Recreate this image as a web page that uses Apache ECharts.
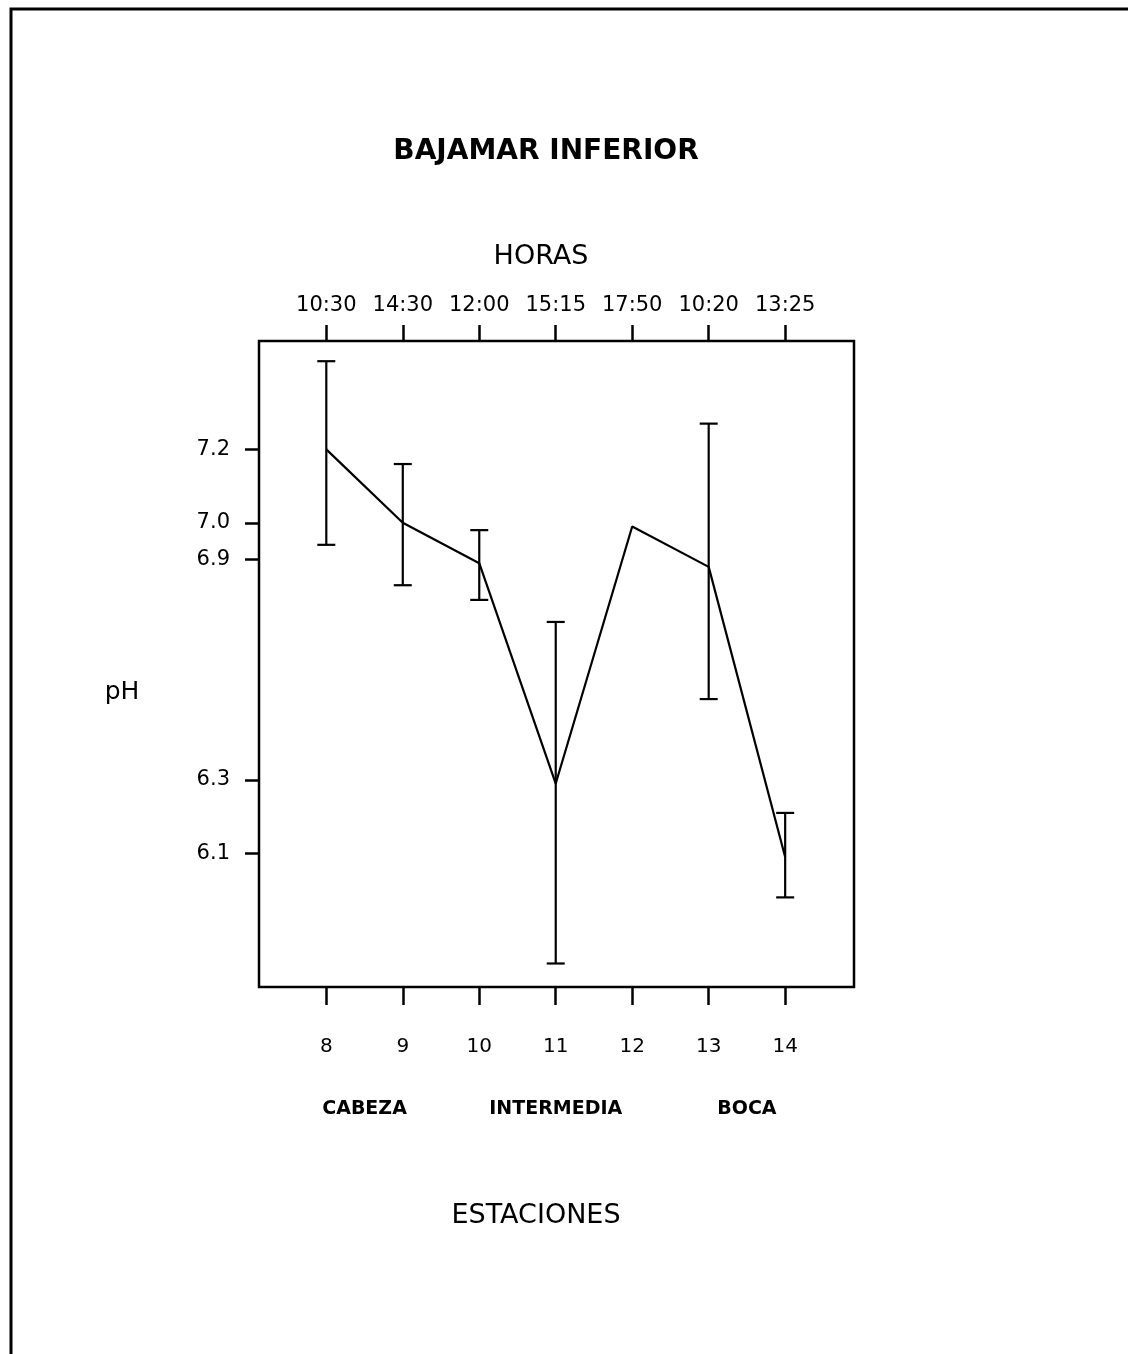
<!DOCTYPE html>
<html>
<head>
<meta charset="utf-8">
<title>Bajamar inferior - pH</title>
<script src="https://cdn.jsdelivr.net/npm/echarts@6.0.0/dist/echarts.min.js"></script>
<style>
  html, body { margin: 0; padding: 0; background: #fff; }
  #chart { width: 1128px; height: 1354px; }
</style>
</head>
<body>
<div id="chart"></div>
<script>
// estaciones y horas de muestreo
const estaciones = [8, 9, 10, 11, 12, 13, 14];
const horas = ['10:30', '14:30', '12:00', '15:15', '17:50', '10:20', '13:25'];
// pH medio y extremos (null = sin barra)
const phMedio = [7.2, 7.0, 6.89, 6.29, 6.99, 6.88, 6.09];
const phMax = [7.44, 7.16, 6.98, 6.73, null, 7.27, 6.21];
const phMin = [6.94, 6.83, 6.79, 5.80, null, 6.52, 5.98];
const yTicks = [6.1, 6.3, 6.9, 7.0, 7.2];
const zonas = ['CABEZA', 'INTERMEDIA', 'BOCA'];
const zonaCentro = [8.5, 11, 13.5];

const INK = '#000';
const FONT = 'DejaVu Sans';

const chart = echarts.init(document.getElementById('chart'));

const linea = estaciones.map((e, i) => [e, phMedio[i]]);
const barras = [];
estaciones.forEach((e, i) => {
  if (phMax[i] != null) barras.push([e, phMin[i], phMax[i]]);
});

function renderBarra(params, api) {
  const x = api.value(0);
  const lo = api.coord([x, api.value(1)]);
  const hi = api.coord([x, api.value(2)]);
  const w = 9;
  const st = { stroke: INK, lineWidth: 2.2 };
  return {
    type: 'group',
    children: [
      { type: 'line', shape: { x1: hi[0], y1: hi[1], x2: lo[0], y2: lo[1] }, style: st },
      { type: 'line', shape: { x1: hi[0] - w, y1: hi[1], x2: hi[0] + w, y2: hi[1] }, style: st },
      { type: 'line', shape: { x1: lo[0] - w, y1: lo[1], x2: lo[0] + w, y2: lo[1] }, style: st }
    ]
  };
}

const xMin = 7.12, xMax = 14.9;

chart.setOption({
  backgroundColor: '#fff',
  animation: false,
  grid: {
    left: 259, right: 274, top: 341, bottom: 367,
    show: true,
    borderColor: INK,
    borderWidth: 2.5,
    backgroundColor: 'transparent'
  },
  graphic: [
    {
      type: 'polyline',
      shape: { points: [[11, 1354], [11, 9], [1128, 9]] },
      style: { stroke: INK, lineWidth: 3, fill: null }
    },
    {
      type: 'text', x: 546, y: 152,
      style: { text: 'BAJAMAR INFERIOR', align: 'center', verticalAlign: 'middle', font: 'bold 28px ' + FONT, fill: INK }
    },
    {
      type: 'text', x: 541, y: 257,
      style: { text: 'HORAS', align: 'center', verticalAlign: 'middle', font: '27px ' + FONT, fill: INK }
    },
    {
      type: 'text', x: 536, y: 1216,
      style: { text: 'ESTACIONES', align: 'center', verticalAlign: 'middle', font: '27px ' + FONT, fill: INK }
    },
    {
      type: 'text', x: 122, y: 692,
      style: { text: 'pH', align: 'center', verticalAlign: 'middle', font: '25px ' + FONT, fill: INK }
    }
  ],
  xAxis: [
    {
      type: 'value', position: 'bottom', min: xMin, max: xMax,
      axisLine: { show: false },
      splitLine: { show: false },
      axisTick: { customValues: estaciones, length: 18, lineStyle: { color: INK, width: 2.5 } },
      axisLabel: {
        customValues: estaciones, margin: 50,
        color: INK, fontFamily: FONT, fontSize: 20,
        formatter: v => String(v)
      }
    },
    {
      type: 'value', position: 'top', min: xMin, max: xMax,
      axisLine: { show: false },
      splitLine: { show: false },
      axisTick: { customValues: estaciones, length: 16, lineStyle: { color: INK, width: 2.5 } },
      axisLabel: {
        customValues: estaciones, margin: 25,
        color: INK, fontFamily: FONT, fontSize: 21,
        formatter: v => horas[estaciones.indexOf(v)]
      }
    },
    {
      type: 'value', position: 'bottom', min: xMin, max: xMax,
      axisLine: { show: false },
      splitLine: { show: false },
      axisTick: { show: false },
      axisLabel: {
        customValues: zonaCentro, margin: 113,
        color: INK, fontFamily: FONT, fontSize: 19, fontWeight: 'bold',
        formatter: v => zonas[zonaCentro.indexOf(v)]
      }
    }
  ],
  yAxis: {
    type: 'value', min: 5.736, max: 7.495,
    axisLine: { show: false },
    splitLine: { show: false },
    axisTick: { show: true, customValues: yTicks, length: 14, lineStyle: { color: INK, width: 2.5 } },
    axisLabel: {
      customValues: yTicks, margin: 29,
      color: INK, fontFamily: FONT, fontSize: 21,
      formatter: v => v.toFixed(1)
    }
  },
  series: [
    {
      name: 'pH',
      type: 'line',
      data: linea,
      symbol: 'none',
      lineStyle: { color: INK, width: 2.2 },
      z: 3
    },
    {
      name: 'rango',
      type: 'custom',
      data: barras,
      renderItem: renderBarra,
      encode: { x: 0, y: [1, 2] },
      z: 2
    }
  ]
});
</script>
</body>
</html>
